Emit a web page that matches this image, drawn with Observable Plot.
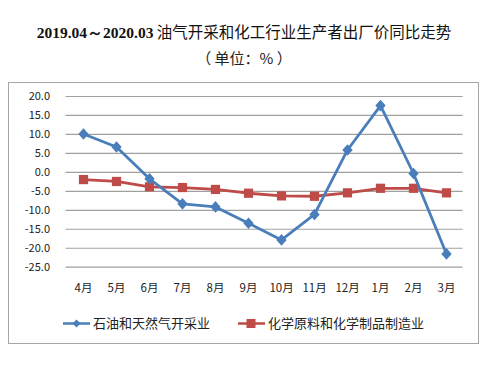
<!DOCTYPE html>
<html><head><meta charset="utf-8">
<script src="https://cdn.jsdelivr.net/npm/d3@7"></script>
<script src="https://cdn.jsdelivr.net/npm/@observablehq/plot@0.6"></script>
<style>
html,body{margin:0;padding:0;background:#fff;}
#wrap{position:relative;width:488px;height:374px;overflow:hidden;font-family:"Noto Sans CJK SC",sans-serif;}
#title{position:absolute;left:0;width:488px;top:21px;text-align:center;font-size:15.5px;color:#111;white-space:nowrap;line-height:20px;}
#title b{font-family:"Liberation Serif","Times New Roman",serif;font-weight:bold;}
#sub{position:absolute;left:0;width:488px;top:48px;text-align:center;font-size:15px;color:#222;line-height:20px;}
#frame{position:absolute;left:8px;top:82px;width:469px;height:260px;border:1px solid #a6a6a6;}
#chart{position:absolute;left:8px;top:82px;}
#legend{position:absolute;top:314px;left:0;width:488px;font-size:13px;color:#222;}
.li{position:absolute;display:flex;align-items:center;white-space:nowrap;line-height:18px;}
</style></head>
<body><div id="wrap">
<div id="title"><b>2019.04～2020.03</b> 油气开采和化工行业生产者出厂价同比走势</div>
<div id="sub">（ 单位：% ）</div>
<div id="frame"></div>
<div id="chart"></div>
<div id="legend"></div>
</div>
<script>
const months = ["4月","5月","6月","7月","8月","9月","10月","11月","12月","1月","2月","3月"];
const oilGas = [10.1, 6.7, -1.7, -8.3, -9.1, -13.4, -17.8, -11.1, 5.9, 17.6, -0.3, -21.5];
const chem = [-1.9, -2.4, -3.8, -4.0, -4.5, -5.5, -6.2, -6.3, -5.4, -4.2, -4.2, -5.4];
const seriesNames = ["石油和天然气开采业", "化学原料和化学制品制造业"];
const yTicks = [20, 15, 10, 5, 0, -5, -10, -15, -20, -25];
const colors = ["#4a7ebb", "#be4b48"];

const rows = [];
months.forEach((m, i) => {
  rows.push({month: m, value: oilGas[i], series: seriesNames[0]});
  rows.push({month: m, value: chem[i], series: seriesNames[1]});
});
const oilRows = rows.filter(d => d.series === seriesNames[0]);
const chemRows = rows.filter(d => d.series === seriesNames[1]);

// diamond sized from area (Plot passes area = π r²)
const diamond = {draw(ctx, size) {
  const r = Math.sqrt(size / Math.PI);
  const w = r * 1.2, h = r * 1.35;
  ctx.moveTo(0, -h); ctx.lineTo(w, 0); ctx.lineTo(0, h); ctx.lineTo(-w, 0); ctx.closePath();
}};

const plot = Plot.plot({
  width: 470,
  height: 220,
  marginTop: 14,
  marginBottom: 35.3,
  marginLeft: 57.5,
  marginRight: 15.4,
  style: {fontFamily: "'Noto Sans CJK SC', sans-serif", fontSize: "11px", color: "#222", background: "transparent"},
  x: {type: "point", domain: months, padding: 0.5, label: null},
  y: {domain: [-25, 20], label: null},
  marks: [
    Plot.ruleY(yTicks, {stroke: "#a0a0a0", strokeWidth: 1.2}),
    Plot.axisY(yTicks, {tickSize: 0, tickPadding: 16, tickFormat: d => d.toFixed(1), fontSize: 11, fill: "#222"}),
    Plot.axisX({tickSize: 0, tickPadding: 17, fontSize: 11.5, fill: "#222"}),
    Plot.line(chemRows, {x: "month", y: "value", stroke: colors[1], strokeWidth: 2.8}),
    Plot.dot(chemRows, {x: "month", y: "value", symbol: "square", r: 5.2, fill: colors[1], stroke: "none"}),
    Plot.line(oilRows, {x: "month", y: "value", stroke: colors[0], strokeWidth: 2.8}),
    Plot.dot(oilRows, {x: "month", y: "value", symbol: diamond, r: 4.3, fill: colors[0], stroke: "none"})
  ]
});
document.getElementById("chart").appendChild(plot);

// legend
const legend = document.getElementById("legend");
const legendX = [63, 238];
seriesNames.forEach((name, i) => {
  const item = document.createElement("div");
  item.className = "li";
  item.style.left = legendX[i] + "px";
  const sym = i === 0
    ? `<path d="M13.5,4.5 L17.5,8.5 L13.5,12.5 L9.5,8.5Z" fill="${colors[i]}"/>`
    : `<rect x="8.5" y="4" width="9" height="9" fill="${colors[i]}"/>`;
  item.innerHTML = `<svg width="27" height="17" style="margin-right:3px"><line x1="0" x2="27" y1="8.5" y2="8.5" stroke="${colors[i]}" stroke-width="2.5"/>${sym}</svg><span>${name}</span>`;
  legend.appendChild(item);
});
</script>
</body></html>
